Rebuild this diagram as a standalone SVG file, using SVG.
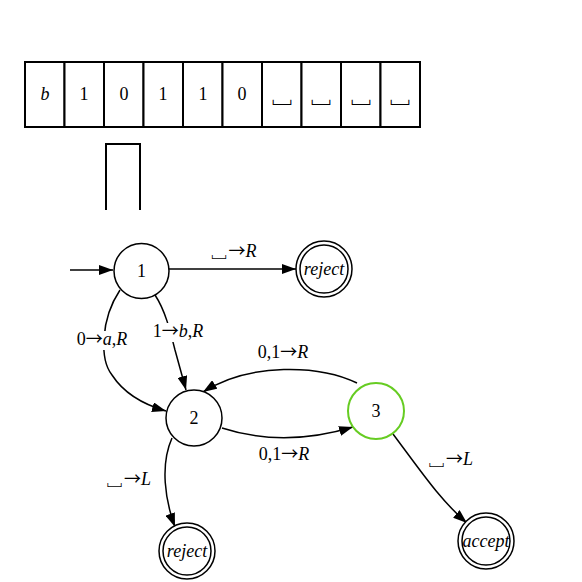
<svg xmlns="http://www.w3.org/2000/svg" width="582" height="582" viewBox="0 0 582 582">
<defs>
<marker id="arr" markerWidth="14" markerHeight="10" refX="14" refY="5" orient="auto" markerUnits="userSpaceOnUse">
<path d="M0,0 L14,5 L0,10 z" fill="#000"/>
</marker>
<style>
text{font-family:"Liberation Serif","DejaVu Serif",serif;font-size:18px;fill:#000}
.i{font-style:italic}
.ar{font-family:"Noto Sans CJK SC",sans-serif;font-size:17px}
.bl{font-family:"Noto Sans CJK SC",sans-serif;font-size:19px}
.tb{font-family:"Noto Sans CJK SC",sans-serif;font-size:25px}
.tape rect{fill:#fff;stroke:#000;stroke-width:2}
.st{fill:#fff;stroke:#000;stroke-width:1.5}
.e{fill:none;stroke:#000;stroke-width:1.5;marker-end:url(#arr)}
.bg{fill:#fff;stroke:none}
</style>
</defs>
<rect width="582" height="582" fill="#fff"/>
<g id="tape" class="tape">
<rect x="25" y="62" width="39.5" height="65"/>
<rect x="64.5" y="62" width="39.5" height="65"/>
<rect x="104" y="62" width="39.5" height="65"/>
<rect x="143.5" y="62" width="39.5" height="65"/>
<rect x="183" y="62" width="39.5" height="65"/>
<rect x="222.5" y="62" width="39.5" height="65"/>
<rect x="262" y="62" width="39.5" height="65"/>
<rect x="301.5" y="62" width="39.5" height="65"/>
<rect x="341" y="62" width="39.5" height="65"/>
<rect x="380.5" y="62" width="39.5" height="65"/>
<g text-anchor="middle">
<text x="45" y="100" class="i">b</text>
<text x="84" y="100">1</text>
<text x="124" y="100">0</text>
<text x="163" y="100">1</text>
<text x="203" y="100">1</text>
<text x="242" y="100">0</text>
<text x="282" y="102" class="tb">␣</text>
<text x="321" y="102" class="tb">␣</text>
<text x="361" y="102" class="tb">␣</text>
<text x="400" y="102" class="tb">␣</text>
</g>
</g>
<g id="head">
<path d="M106,210 L106,144 L140,144 L140,210" fill="none" stroke="#000" stroke-width="2"/>
</g>
<g id="edges">
<path class="e" d="M70,270 L113,270"/>
<path class="e" d="M169,269 L296,269"/>
<path class="e" d="M120,290 C100,320 100,360 112,375 C125,395 145,405 166,411"/>
<path class="e" d="M155,295 C165,310 170,330 175,350 L186,390"/>
<path class="e" d="M357,383 C320,365 250,362 203,392"/>
<path class="e" d="M222,428 C265,442 310,440 353,427"/>
<path class="e" d="M172,438 C160,465 165,500 175,527"/>
<path class="e" d="M393,434 C420,470 440,500 467,523"/>
</g>
<g id="labels" text-anchor="middle">
<rect class="bg" x="75" y="331" width="55" height="19"/>
<rect class="bg" x="151" y="323" width="55" height="19"/>
<text x="233" y="257"><tspan class="bl">␣</tspan><tspan class="ar">→</tspan><tspan class="i">R</tspan></text>
<text x="102" y="345">0<tspan class="ar">→</tspan><tspan class="i">a</tspan>,<tspan class="i">R</tspan></text>
<text x="178" y="337">1<tspan class="ar">→</tspan><tspan class="i">b</tspan>,<tspan class="i">R</tspan></text>
<text x="283" y="358">0,1<tspan class="ar">→</tspan><tspan class="i">R</tspan></text>
<text x="284" y="460">0,1<tspan class="ar">→</tspan><tspan class="i">R</tspan></text>
<text x="128" y="485"><tspan class="bl">␣</tspan><tspan class="ar">→</tspan><tspan class="i">L</tspan></text>
<text x="450" y="465"><tspan class="bl">␣</tspan><tspan class="ar">→</tspan><tspan class="i">L</tspan></text>
</g>
<g id="q1"><circle class="st" cx="141.5" cy="271" r="27.5"/><text x="141.5" y="277" text-anchor="middle">1</text></g>
<g id="q2"><circle class="st" cx="194" cy="418" r="28"/><text x="194" y="424" text-anchor="middle">2</text></g>
<g id="q3"><circle cx="376" cy="411" r="28" fill="#fff" stroke="#66cc22" stroke-width="2"/><text x="376" y="417" text-anchor="middle">3</text></g>
<g id="reject1"><circle class="st" cx="324" cy="269" r="28"/><circle class="st" cx="324" cy="269" r="24"/><text x="324" y="275" text-anchor="middle" class="i">reject</text></g>
<g id="reject2"><circle class="st" cx="187" cy="551" r="28"/><circle class="st" cx="187" cy="551" r="24"/><text x="187" y="557" text-anchor="middle" class="i">reject</text></g>
<g id="accept"><circle class="st" cx="486" cy="541" r="28"/><circle class="st" cx="486" cy="541" r="24"/><text x="486" y="547" text-anchor="middle" class="i">accept</text></g>
</svg>
